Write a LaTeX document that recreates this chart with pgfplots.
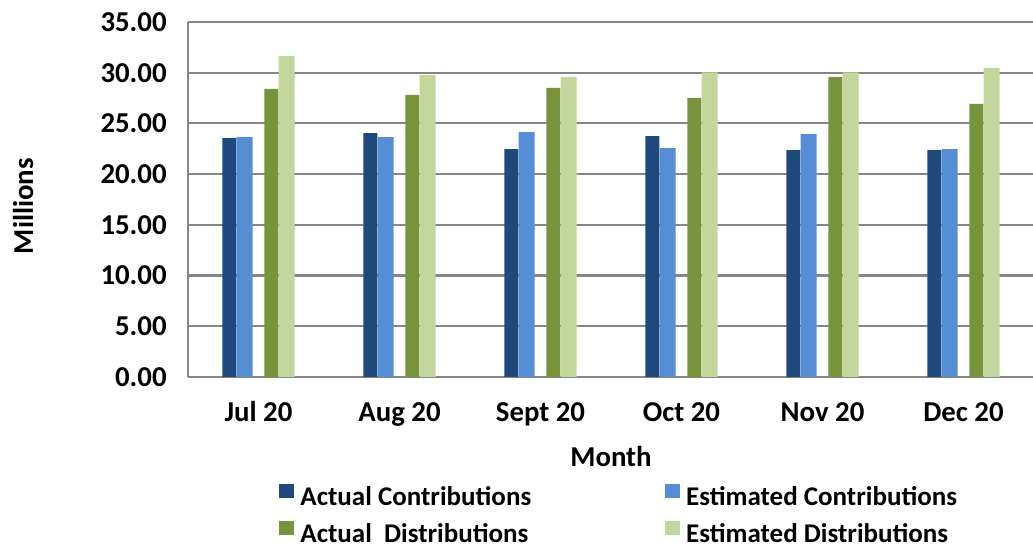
\documentclass[border=0pt]{standalone}
\usepackage{pgfplots}
\pgfplotsset{compat=1.18}
\usepackage{fontspec}
\setmainfont{Carlito}
\definecolor{ac}{HTML}{1F497D}
\definecolor{ec}{HTML}{558ED5}
\definecolor{ad}{HTML}{77933C}
\definecolor{ed}{HTML}{C3D69B}
\definecolor{gridc}{HTML}{868686}
\begin{document}
\begin{tikzpicture}
\path[use as bounding box] (0,0) rectangle (516.5pt,-274.5pt);
\begin{axis}[
  at={(94pt,-188.4pt)}, anchor=south west,
  scale only axis, width=423pt, height=177.4pt,
  xmin=-0.5, xmax=5.5, ymin=0, ymax=35,
  ytick={0,5,...,35},
  xtick={0,...,5},
  xticklabels={Jul 20, Aug 20, Sept 20, Oct 20, Nov 20, Dec 20},
  axis x line=bottom, axis y line=left,
  axis line style={gridc, line width=1.1pt, -},
  ymajorgrids, major grid style={gridc, line width=1.1pt},
  major tick length=0pt,
  tick label style={font=\bfseries\fontsize{14.4}{17}\selectfont},
  label style={font=\bfseries\fontsize{14.4}{17}\selectfont},
  /pgf/number format/.cd, fixed, fixed zerofill, precision=2, assume math mode=true, /pgfplots/.cd,
  yticklabel style={anchor=east, inner sep=0pt, xshift=-10.5pt},
  xticklabel style={anchor=base, inner sep=0pt, yshift=-22.4pt},
  xlabel={Month}, ylabel={Millions},
  xlabel style={at={(axis description cs:0.5,-0.254)}, anchor=base, inner sep=0pt},
  ylabel style={at={(axis description cs:-0.195,0.481)}, anchor=center, inner sep=0pt},
  ybar,
  legend columns=2, legend cell align=left,
  legend image code/.code={\fill[#1] (0pt,0pt) rectangle (7.5pt,7pt);},
  legend style={draw=none, fill=none, inner sep=0pt,
    at={(axis description cs:0.1076,-0.302)}, anchor=north west,
    font=\bfseries\fontsize{13.5}{16}\selectfont,
    nodes={inner sep=0pt, text height=10pt, text depth=3pt},
    row sep=5pt,
    /tikz/every odd column/.append style={column sep=3pt},
    /tikz/every even column/.append style={column sep=67pt}},
]
\addplot[fill=ac, draw=none, bar width=0.0994, bar shift=-0.206] coordinates {(0,23.55) (1,24.04) (2,22.46) (3,23.75) (4,22.36) (5,22.36)};
\addplot[fill=ec, draw=none, bar width=0.1136, bar shift=-0.099] coordinates {(0,23.65) (1,23.65) (2,24.14) (3,22.56) (4,23.94) (5,22.46)};
\addplot[fill=ad, draw=none, bar width=0.0994, bar shift=0.092] coordinates {(0,28.40) (1,27.81) (2,28.50) (3,27.51) (4,29.59) (5,26.92)};
\addplot[fill=ed, draw=none, bar width=0.1136, bar shift=0.199] coordinates {(0,31.67) (1,29.79) (2,29.59) (3,30.02) (4,30.02) (5,30.48)};
\legend{Actual Contributions, Estimated Contributions, Actual\ \ Distributions, Estimated Distributions}
\end{axis}
\end{tikzpicture}
\end{document}
